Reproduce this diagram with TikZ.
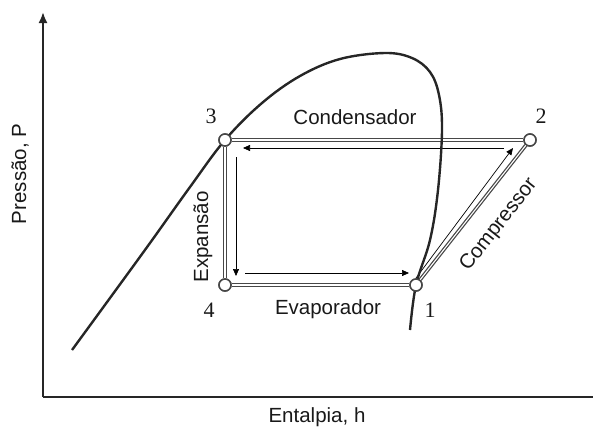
\documentclass[tikz,border=0pt]{standalone}
\usepackage{fontspec}
\setmainfont{Liberation Sans}
\newfontfamily\numfont{Liberation Serif}
\usetikzlibrary{arrows.meta}
\begin{document}
\begin{tikzpicture}[x=1bp,y=-1bp,
  axisline/.style={line width=2pt, black!85, line cap=butt},
  dome/.style={line width=2.4pt, black!85},
  cyc/.style={draw=black!72, line width=3.6pt, postaction={draw=white, line width=1.1pt}},
  pt/.style={circle, draw=black!72, line width=1.5pt, fill=white, minimum size=12bp, inner sep=0pt},
  flow/.style={line width=0.7pt, black, -{Triangle[length=7bp,width=6bp]}},
  lbl/.style={font=\fontsize{20.5bp}{24bp}\selectfont, text=black!90, inner sep=0pt},
  num/.style={font=\numfont\fontsize{22bp}{26bp}\selectfont, text=black!90, inner sep=0pt}]
\useasboundingbox (0,0) rectangle (593,429);
% axes
\coordinate (O) at (43,397);
\coordinate (Ytop) at (43,12);
\coordinate (Xend) at (593,397);
\draw[axisline, -{Latex[length=11bp,width=9bp]}] (O) -- (Ytop);
\draw[axisline] (O) -- (Xend);
% cycle points
\node[pt] (p3) at (225,140) {};
\node[pt] (p2) at (530,140) {};
\node[pt] (p4) at (225,285) {};
\node[pt] (p1) at (416,285) {};
% cycle lines
\draw[cyc] (p3) -- (p2);
\draw[cyc] (p2) -- (p1);
\draw[cyc] (p1) -- (p4);
\draw[cyc] (p4) -- (p3);
% inner flow arrows
\coordinate (a1) at (504,148);
\coordinate (a2) at (243,148);
\coordinate (b1) at (236,157);
\coordinate (b2) at (236,276);
\coordinate (c1) at (245,273);
\coordinate (c2) at (409,273);
\coordinate (d1) at (416,278);
\coordinate (d2) at (513,148);
\draw[flow] (a1) -- (a2);
\draw[flow] (b1) -- (b2);
\draw[flow] (c1) -- (c2);
\draw[flow] (d1) -- (d2);
% saturation dome
\draw[dome] plot[smooth, tension=0.6] coordinates {
  (72,350) (110,298) (150,243) (190,187) (225,140) (262,103) (300,76)
  (340,59) (385,53) (412,58) (430,72) (439,95) (442,130) (438,190)
  (430,240) (416,285) (410,330)};
% redraw points on top
\node[pt] at (p3) {};
\node[pt] at (p2) {};
\node[pt] at (p4) {};
\node[pt] at (p1) {};
% labels
\node[num] (n3) at (211,116) {3};
\node[num] (n2) at (541,116) {2};
\node[num] (n4) at (209,310) {4};
\node[num] (n1) at (430,310) {1};
\node[lbl] (lc) at (355,117) {Condensador};
\node[lbl] (le) at (328,309) {Evaporador};
\node[lbl, rotate=90] (lx) at (203,237) {Expansão};
\node[lbl, rotate=51.8] (lk) at (499,225) {Compressor};
\node[lbl, rotate=90] (ly) at (20,174) {Pressão, P};
\node[lbl] (lh) at (317,417) {Entalpia, h};
\end{tikzpicture}
\end{document}
